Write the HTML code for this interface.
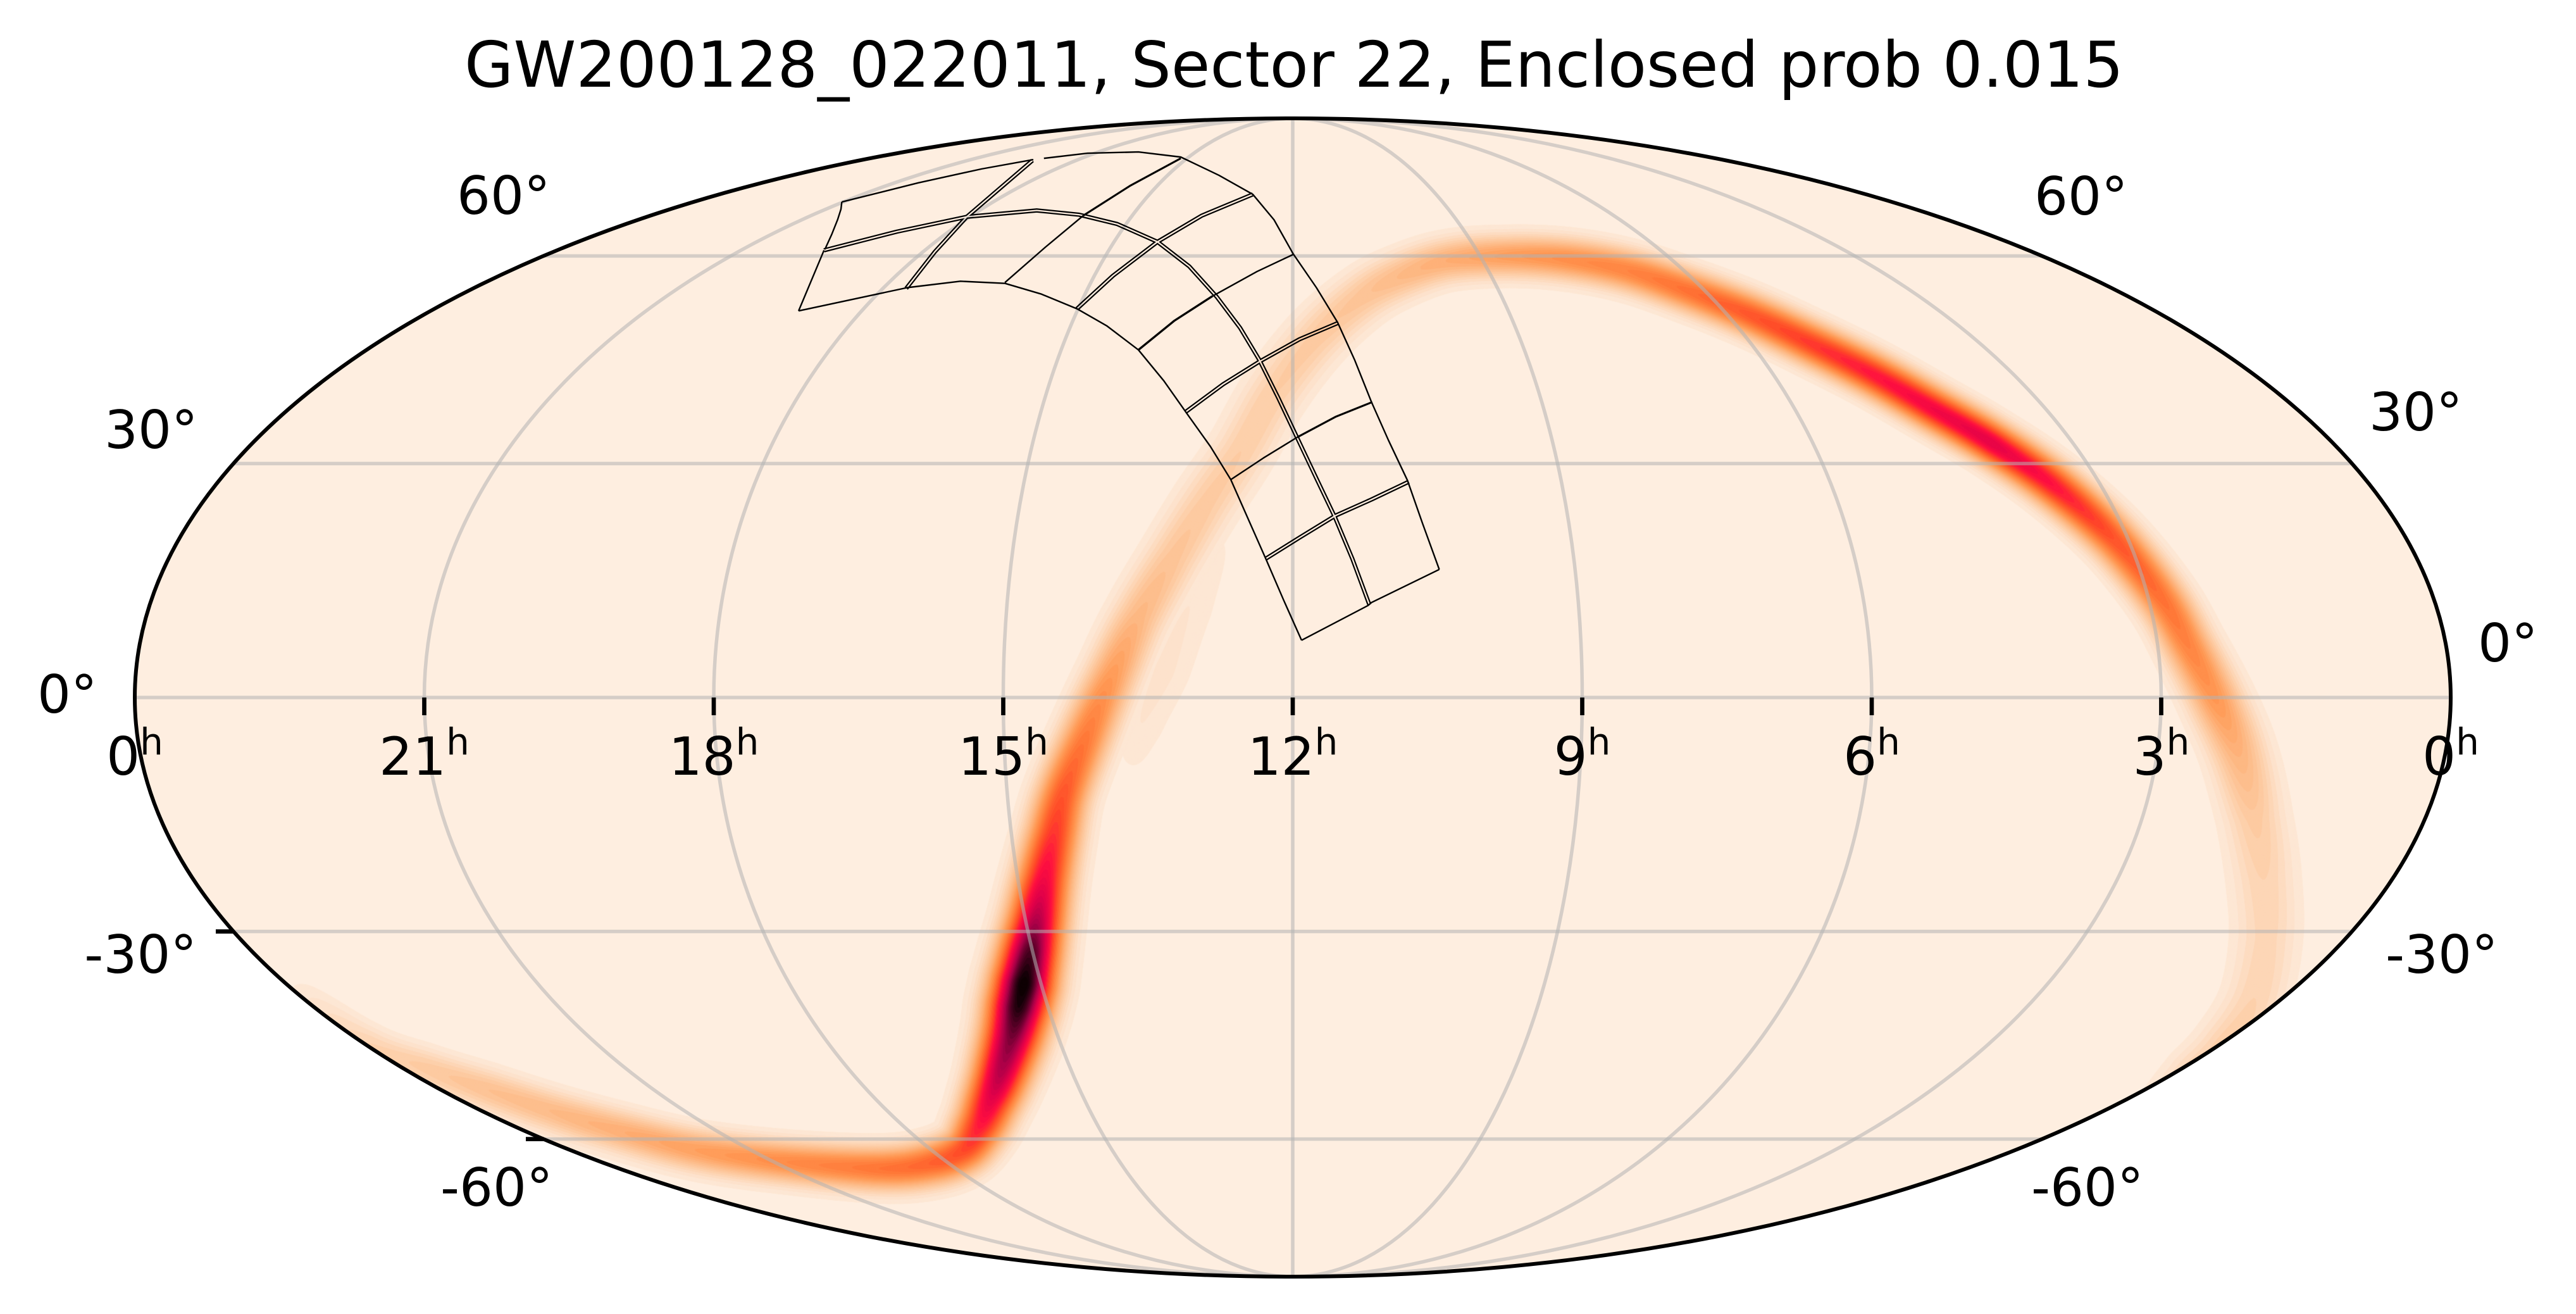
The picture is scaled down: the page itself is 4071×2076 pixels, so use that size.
<!DOCTYPE html>
<html>
<head>
<meta charset="utf-8">
<style>
html,body{margin:0;padding:0;background:#ffffff;}
#wrap{position:relative;width:4071px;height:2076px;overflow:hidden;background:#ffffff;}
#wrap svg,#wrap canvas{position:absolute;left:0;top:0;}
text{font-family:"DejaVu Sans","Liberation Sans",sans-serif;fill:#000;}
</style>
</head>
<body>
<div id="wrap">
<svg width="4071" height="2076" viewBox="0 0 4071 2076">
  <ellipse cx="2043" cy="1102" rx="1830" ry="915" fill="#feeee0"/>
</svg>
<canvas id="c" width="4071" height="2076"></canvas>
<svg width="4071" height="2076" viewBox="0 0 4071 2076">
  <defs>
    <mask id="dm" maskUnits="userSpaceOnUse" x="0" y="0" width="4071" height="2076">
      <rect x="0" y="0" width="4071" height="2076" fill="#fff"/>
      <g transform="translate(1250 220) scale(0.66964)" fill="none" stroke="#000" stroke-width="3.4" stroke-linejoin="round" stroke-linecap="butt">
        <polyline points="78,262 250,218 415,183 580,168 680,178 770,200 865,242 940,300 1005,372 1060,445 1105,520 1150,610 1195,705 1240,800 1283,890 1325,990 1365,1098"/>
        <polyline points="272,352 340,265 415,183 500,110 570,50"/>
        <polyline points="675,400 760,322 865,242 970,180 1090,130"/>
        <polyline points="932,643 1020,578 1105,525 1200,472 1292,433"/>
        <polyline points="1120,990 1200,940 1285,888 1370,850 1458,808"/>
      </g>
    </mask>
  </defs>

  <!-- grid -->
  <g fill="none" stroke="#b2b2b2" stroke-opacity="0.55" stroke-width="5.5">
    <ellipse cx="2043" cy="1102" rx="457.5" ry="915"/>
    <ellipse cx="2043" cy="1102" rx="915" ry="915"/>
    <ellipse cx="2043" cy="1102" rx="1372.5" ry="915"/>
    <line x1="2043" y1="187" x2="2043" y2="2017"/>
    <line x1="213" y1="1102" x2="3873" y2="1102"/>
    <line x1="369" y1="732.4" x2="3717" y2="732.4"/>
    <line x1="369" y1="1471.6" x2="3717" y2="1471.6"/>
    <line x1="858.6" y1="404.4" x2="3227.4" y2="404.4"/>
    <line x1="858.6" y1="1799.6" x2="3227.4" y2="1799.6"/>
  </g>

  <!-- footprint single lines -->
  <g transform="translate(1250 220) scale(0.66964)" fill="none" stroke="#000" stroke-width="3.6" stroke-linejoin="round">
    <polyline points="597,45 700,33 820,30 920,42 1010,85 1090,130 1140,190 1185,270 1240,350 1290,432 1330,520 1370,620 1410,710 1455,805 1490,905 1530,1015"/>
    <polyline points="1530,1015 1370,1093 1362,1100 1205,1182"/>
    <polyline points="1205,1182 1163,1088 1122,993 1080,898 1038,803 990,725 935,648 880,570 820,497 745,440 675,400 590,365 505,340 400,335 275,350 18,405"/>
    <polyline points="18,405 78,262"/>
    <polyline points="80,260 96,225 110,190 118,165 120,148"/>
    <polyline points="120,148 300,103 450,70 572,48"/>
    <polyline points="505,338 600,255 690,180"/>
    <polyline points="690,180 800,110 920,45" stroke-width="4.6"/>
    <polyline points="820,497 905,428 995,370" stroke-width="5"/>
    <polyline points="995,370 1100,312 1185,272"/>
    <polyline points="1038,803 1115,752 1195,703"/>
    <polyline points="1195,703 1285,655 1372,620" stroke-width="4.6"/>
  </g>
  <!-- footprint double lines -->
  <g mask="url(#dm)">
    <g transform="translate(1250 220) scale(0.66964)" fill="none" stroke="#000" stroke-width="10" stroke-linejoin="round">
      <polyline points="78,262 250,218 415,183 580,168 680,178 770,200 865,242 940,300 1005,372 1060,445 1105,520 1150,610 1195,705 1240,800 1283,890 1325,990 1365,1098"/>
      <polyline points="272,352 340,265 415,183 500,110 570,50"/>
      <polyline points="675,400 760,322 865,242 970,180 1090,130"/>
      <polyline points="932,643 1020,578 1105,525 1200,472 1292,433"/>
      <polyline points="1120,990 1200,940 1285,888 1370,850 1458,808"/>
    </g>
  </g>

  <!-- outline -->
  <ellipse cx="2043" cy="1102" rx="1830" ry="915" fill="none" stroke="#000" stroke-width="6"/>

  <!-- ticks -->
  <g stroke="#000" stroke-width="6.7">
    <line x1="670.5" y1="1102" x2="670.5" y2="1130"/>
    <line x1="1128" y1="1102" x2="1128" y2="1130"/>
    <line x1="1585.5" y1="1102" x2="1585.5" y2="1130"/>
    <line x1="2043" y1="1102" x2="2043" y2="1130"/>
    <line x1="2500.5" y1="1102" x2="2500.5" y2="1130"/>
    <line x1="2958" y1="1102" x2="2958" y2="1130"/>
    <line x1="3415.5" y1="1102" x2="3415.5" y2="1130"/>
    <line x1="341" y1="1471.6" x2="369" y2="1471.6"/>
    <line x1="831" y1="1799.6" x2="859" y2="1799.6"/>
  </g>

  <!-- title -->
  <text x="2045" y="137" text-anchor="middle" font-size="100">GW200128_022011, Sector 22, Enclosed prob 0.015</text>

  <!-- RA labels -->
  <g font-size="83.3" text-anchor="middle">
    <text x="213" y="1224">0<tspan dy="-32" font-size="58">h</tspan></text>
    <text x="670.5" y="1224">21<tspan dy="-32" font-size="58">h</tspan></text>
    <text x="1128" y="1224">18<tspan dy="-32" font-size="58">h</tspan></text>
    <text x="1585.5" y="1224">15<tspan dy="-32" font-size="58">h</tspan></text>
    <text x="2043" y="1224">12<tspan dy="-32" font-size="58">h</tspan></text>
    <text x="2500.5" y="1224">9<tspan dy="-32" font-size="58">h</tspan></text>
    <text x="2958" y="1224">6<tspan dy="-32" font-size="58">h</tspan></text>
    <text x="3415.5" y="1224">3<tspan dy="-32" font-size="58">h</tspan></text>
    <text x="3873" y="1224">0<tspan dy="-32" font-size="58">h</tspan></text>
  </g>

  <!-- Dec labels -->
  <g font-size="83.3">
    <text x="722" y="338">60°</text>
    <text x="165" y="708">30°</text>
    <text x="59" y="1126">0°</text>
    <text x="311" y="1537" text-anchor="end">-30°</text>
    <text x="696" y="1905">-60°</text>
    <text x="3215" y="339">60°</text>
    <text x="3744" y="680">30°</text>
    <text x="3916" y="1045">0°</text>
    <text x="3770" y="1537">-30°</text>
    <text x="3210" y="1905">-60°</text>
  </g>
</svg>
</div>
<script>
(function(){
  var cv=document.getElementById('c');
  var ctx=cv.getContext('2d');
  var main=[[470,1565,0.02,18],[583,1650,0.10,20],[680,1690,0.13,21],[774,1723,0.16,22],[870,1755,0.18,22],[965,1783,0.21,22],[1100,1817,0.26,22],[1245,1836,0.32,22],[1391,1846,0.38,23],[1470,1838,0.42,24],[1522,1817,0.48,25],[1548,1780,0.56,27],[1565,1740,0.65,28],[1580,1700,0.74,29],[1599,1638,0.84,31],[1610,1590,0.96,32],[1618,1555,1.0,32],[1628,1505,0.9,31],[1638,1455,0.76,30],[1650,1390,0.62,29],[1665,1320,0.52,28],[1682,1250,0.45,27],[1719,1157,0.36,27],[1759,1064,0.27,27],[1799,977,0.19,28],[1853,883,0.15,29],[1906,796,0.13,30],[1960,715,0.12,30],[2013,622,0.12,30],[2080,535,0.13,29],[2150,472,0.15,27],[2210,438,0.18,25],[2287,412,0.22,23],[2383,405,0.27,22],[2478,410,0.31,22],[2574,428,0.34,22],[2670,460,0.39,22],[2765,497,0.45,22],[2861,542,0.51,22],[2957,590,0.57,22],[3052,644,0.62,22],[3148,700,0.66,22],[3244,766,0.58,23],[3339,850,0.46,24],[3416,945,0.39,25],[3460,1023,0.34,26],[3504,1110,0.28,28],[3538,1192,0.2,30],[3562,1289,0.13,32],[3577,1386,0.10,34],[3581,1483,0.09,34],[3562,1580,0.10,32],[3518,1653,0.12,30],[3470,1700,0.12,28],[3420,1740,0.06,25],[3380,1765,0.02,22]];
  var ghost=[[1790,1200,0.02,24],[1805,1140,0.04,30],[1840,1060,0.045,32],[1878,960,0.04,32],[1925,860,0.02,28]];
  function cr(p0,p1,p2,p3,t){var t2=t*t,t3=t2*t;return 0.5*((2*p1)+(-p0+p2)*t+(2*p0-5*p1+4*p2-p3)*t2+(-p0+3*p1-3*p2+p3)*t3);}
  function sample(P,step){
    var out=[];
    for(var i=0;i<P.length-1;i++){
      var p0=P[Math.max(i-1,0)],p1=P[i],p2=P[i+1],p3=P[Math.min(i+2,P.length-1)];
      var d=Math.hypot(p2[0]-p1[0],p2[1]-p1[1]);
      var n=Math.max(1,Math.ceil(d/step));
      for(var k=0;k<n;k++){var t=k/n;
        out.push([cr(p0[0],p1[0],p2[0],p3[0],t),cr(p0[1],p1[1],p2[1],p3[1],t),p1[2]+(p2[2]-p1[2])*t,p1[3]+(p2[3]-p1[3])*t]);}
    }
    out.push(P[P.length-1].slice());
    return out;
  }
  var stops=[[0,[254,238,224]],[0.05,[253,226,204]],[0.10,[253,211,176]],[0.18,[253,187,136]],[0.28,[255,154,85]],[0.38,[255,117,53]],[0.48,[255,74,40]],[0.58,[255,16,64]],[0.68,[224,0,74]],[0.78,[168,0,72]],[0.88,[90,0,40]],[0.97,[21,0,8]],[1,[10,0,0]]];
  function cmap(v){
    if(v<=0)return stops[0][1];
    for(var i=0;i<stops.length-1;i++){
      var a=stops[i],b=stops[i+1];
      if(v<=b[0]){var t=(v-a[0])/(b[0]-a[0]);
        return [Math.round(a[1][0]+(b[1][0]-a[1][0])*t),Math.round(a[1][1]+(b[1][1]-a[1][1])*t),Math.round(a[1][2]+(b[1][2]-a[1][2])*t)];}
    }
    return stops[stops.length-1][1];
  }
  var S1=sample(main,4), S2=sample(ghost,4);
  ctx.save();
  ctx.beginPath();
  ctx.ellipse(2043,1102,1830,915,0,0,2*Math.PI);
  ctx.clip();
  ctx.lineCap='round';
  ctx.lineJoin='round';
  for(var L=0.02;L<1.0;L+=0.02){
    var c=cmap(L+0.01);
    ctx.strokeStyle='rgb('+c[0]+','+c[1]+','+c[2]+')';
    [S2,S1].forEach(function(S){
      for(var i=0;i<S.length-1;i++){
        var a=S[i],b=S[i+1];
        var I=(a[2]+b[2])/2,s=(a[3]+b[3])/2;
        if(I<=L)continue;
        var w=2*s*Math.sqrt(2*Math.log(I/L));
        if(w<0.5)continue;
        ctx.lineWidth=w;
        ctx.beginPath();ctx.moveTo(a[0],a[1]);ctx.lineTo(b[0],b[1]);ctx.stroke();
      }
    });
  }
  ctx.restore();
})();
</script>
</body>
</html>
